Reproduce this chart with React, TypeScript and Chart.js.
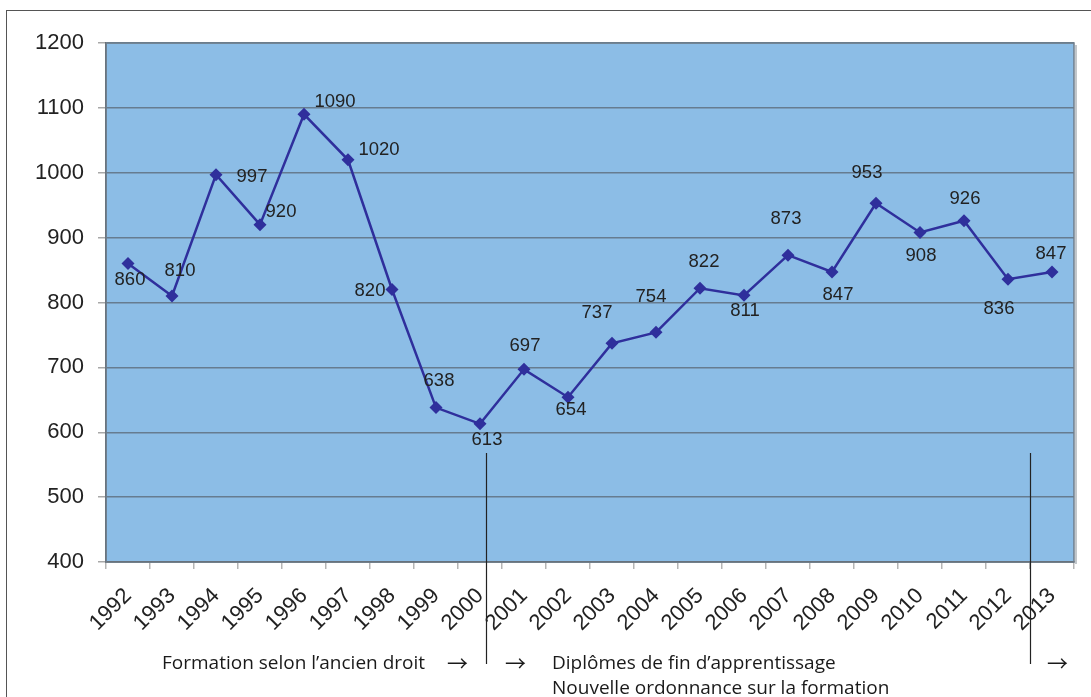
import React, { useEffect, useRef } from 'react';
import { Chart, registerables } from 'chart.js';

Chart.register(...registerables);

const years = ['1992', '1993', '1994', '1995', '1996', '1997', '1998', '1999', '2000', '2001', '2002', '2003', '2004', '2005', '2006', '2007', '2008', '2009', '2010', '2011', '2012', '2013'];
const graduates = [860, 810, 997, 920, 1090, 1020, 820, 638, 613, 697, 654, 737, 754, 822, 811, 873, 847, 953, 908, 926, 836, 847];
const yMin = 400;
const yMax = 1200;
const yStep = 100;

// label offsets (dx, dy) relative to each point, in px
const labelOffsets: [number, number][] = [
  [2, 16], [8, -25], [36, 2], [21, -13], [31, -12], [31, -10], [-22, 1], [3, -27],
  [7, 16], [1, -23], [3, 13], [-15, -30], [-5, -35], [4, -26], [1, 16], [-2, -36],
  [6, 23], [-9, -30], [1, 23], [1, -22], [-9, 30], [-1, -18],
];

const noteOld = 'Formation selon l’ancien droit';
const noteNew1 = 'Diplômes de fin d’apprentissage';
const noteNew2 = 'Nouvelle ordonnance sur la formation';

const areaPlugin = {
  id: 'areaPlugin',
  beforeDraw(chart: any) {
    const { ctx, chartArea: a } = chart;
    ctx.save();
    ctx.fillStyle = '#8cbde6';
    ctx.fillRect(a.left, a.top, a.right - a.left, a.bottom - a.top);
    ctx.restore();
  },
  afterDatasetsDraw(chart: any) {
    const { ctx, chartArea: a } = chart;
    ctx.save();
    ctx.strokeStyle = '#6f7d8a';
    ctx.lineWidth = 1.5;
    ctx.strokeRect(a.left, a.top, a.right - a.left, a.bottom - a.top);
    ctx.strokeStyle = 'rgba(120,130,140,0.45)';
    ctx.lineWidth = 2;
    ctx.beginPath();
    ctx.moveTo(a.right + 2, a.top + 2);
    ctx.lineTo(a.right + 2, a.bottom + 2);
    ctx.stroke();

    // data labels
    const meta = chart.getDatasetMeta(0);
    ctx.font = '18.5px "Liberation Sans", Arial, sans-serif';
    ctx.fillStyle = '#222';
    ctx.textAlign = 'center';
    ctx.textBaseline = 'middle';
    meta.data.forEach((pt: any, i: number) => {
      const [dx, dy] = labelOffsets[i];
      ctx.fillText(String(graduates[i]), pt.x + dx, pt.y + dy);
    });

    // separator lines
    const xs = chart.scales.x;
    const ys = chart.scales.y;
    ctx.strokeStyle = '#222';
    ctx.lineWidth = 1.2;
    [8.14, 20.5].forEach((v) => {
      const x = Math.round(xs.getPixelForValue(v)) + 0.5;
      ctx.beginPath();
      ctx.moveTo(x, ys.getPixelForValue(568));
      ctx.lineTo(x, a.bottom + 102);
      ctx.stroke();
    });
    ctx.restore();
  },
};

export default function App() {
  const ref = useRef<HTMLCanvasElement>(null);
  useEffect(() => {
    if (!ref.current) return;
    const chart = new Chart(ref.current, {
      type: 'line',
      data: {
        labels: years,
        datasets: [
          {
            data: graduates,
            borderColor: '#2f2f9c',
            backgroundColor: '#2f2f9c',
            borderWidth: 2.5,
            pointStyle: 'rectRot',
            pointRadius: 6.5,
            pointBorderWidth: 0,
            tension: 0,
          },
        ],
      },
      options: {
        animation: false,
        responsive: true,
        maintainAspectRatio: false,
        layout: { padding: { top: 43, right: 17, left: 0, bottom: 0 } },
        plugins: { legend: { display: false }, tooltip: { enabled: false }, title: { display: false } },
        scales: {
          x: {
            offset: true,
            grid: { offset: true, drawOnChartArea: false, tickLength: 7, tickColor: '#b5b5b5', lineWidth: 1.5 },
            border: { display: true, color: '#555', width: 1.5 },
            ticks: {
              minRotation: 45,
              maxRotation: 45,
              padding: 14,
              color: '#222',
              font: { family: '"Liberation Sans", Arial, sans-serif', size: 22 },
            },
            afterFit(scale: any) {
              scale.height = 135;
            },
          },
          y: {
            min: yMin,
            max: yMax,
            ticks: {
              stepSize: yStep,
              padding: 14,
              color: '#222',
              font: { family: '"Liberation Sans", Arial, sans-serif', size: 22 },
              callback: (v: any) => String(v),
            },
            grid: { color: '#667c90', lineWidth: 1.5, tickLength: 8, tickColor: '#a8a8a8' },
            border: { display: true, color: '#5a5a5a', width: 1.5 },
            afterFit(scale: any) {
              scale.width = 106;
            },
          },
        },
      },
      plugins: [areaPlugin],
    });
    return () => chart.destroy();
  }, []);

  const noteStyle: React.CSSProperties = {
    position: 'absolute',
    fontFamily: '"Open Sans", "Noto Sans", sans-serif',
    fontSize: '19px',
    lineHeight: '24px',
    color: '#1a1a1a',
    whiteSpace: 'nowrap',
  };
  const arrowStyle: React.CSSProperties = {
    ...noteStyle,
    fontFamily: '"Noto Sans CJK SC", sans-serif',
    fontSize: '21px',
    lineHeight: '24px',
  };

  return (
    <div style={{ position: 'absolute', left: 0, top: 0, width: 1091, height: 697, background: '#fff', overflow: 'hidden' }}>
      <div style={{ position: 'absolute', left: 6, top: 10, right: -5, bottom: -5, borderTop: '1.5px solid #555', borderLeft: '1.5px solid #555' }} />
      <div style={{ position: 'absolute', left: 0, top: 0, width: 1091, height: 697 }}>
        <canvas ref={ref} />
      </div>
      <span style={{ ...noteStyle, left: 162, top: 650 }}>{noteOld}</span>
      <span style={{ ...arrowStyle, left: 447, top: 650 }}>→</span>
      <span style={{ ...arrowStyle, left: 505, top: 650 }}>→</span>
      <span style={{ ...noteStyle, left: 552, top: 650 }}>{noteNew1}</span>
      <span style={{ ...noteStyle, left: 552, top: 675 }}>{noteNew2}</span>
      <span style={{ ...arrowStyle, left: 1047, top: 650 }}>→</span>
    </div>
  );
}
